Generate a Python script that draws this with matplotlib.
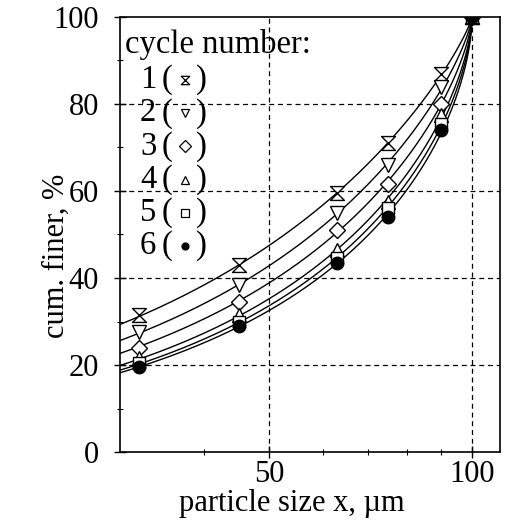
import numpy as np
import matplotlib
matplotlib.use("Agg")
import matplotlib.pyplot as plt
from matplotlib.path import Path
from matplotlib.ticker import FixedLocator, FixedFormatter, NullFormatter

# ---- data ----
particle_size = [32, 45, 63, 75, 90, 100]
cycle_1 = [31.5, 43.0, 59.5, 71.0, 87.0, 100.0]
cycle_2 = [27.5, 38.5, 55.0, 66.0, 84.0, 100.0]
cycle_3 = [24.0, 34.5, 51.0, 61.5, 80.0, 100.0]
cycle_4 = [21.5, 31.5, 46.5, 57.5, 77.5, 100.0]
cycle_5 = [20.5, 30.0, 44.5, 56.0, 75.5, 100.0]
cycle_6 = [19.5, 29.0, 43.5, 54.0, 74.0, 100.0]
cycle_labels = ["1", "2", "3", "4", "5", "6"]
x_ticks = [50, 100]
x_minor = [40, 60, 70, 80, 90]
y_ticks = [0, 20, 40, 60, 80, 100]
y_minor = [10, 30, 50, 70, 90]
x_max_size = 100.0

series = [cycle_1, cycle_2, cycle_3, cycle_4, cycle_5, cycle_6]

hourglass = Path([(-1, 1), (1, 1), (-1, -1), (1, -1), (-1, 1)],
                 [Path.MOVETO, Path.LINETO, Path.LINETO, Path.LINETO, Path.CLOSEPOLY])
markers = [hourglass, "v", "D", "^", "s", "o"]
msizes = [10, 10, 8, 10, 8, 9]
faces = ["white", "white", "white", "white", "white", "black"]

plt.rcParams["font.family"] = ["Liberation Serif", "DejaVu Serif"]

fig = plt.figure(figsize=(5.07, 5.25), dpi=100)
ax = fig.add_axes([120 / 507, 1 - 452 / 525, 380 / 507, 435 / 525])
ax.set_xscale("log")
ax.set_xlim(30, 110)
ax.set_ylim(0, 100)


def harris(x, s, r):
    u = np.clip(np.asarray(x, dtype=float) / x_max_size, 0, 1)
    return 100.0 * (1.0 - (1.0 - u ** s) ** r)


xs = np.array(particle_size, dtype=float)
xc = np.geomspace(30, 100, 400)
s_grid = np.linspace(0.3, 3.0, 271)
r_grid = np.linspace(0.2, 3.0, 281)
S, R = np.meshgrid(s_grid, r_grid)
for vals, mk, ms, fc in zip(series, markers, msizes, faces):
    v = np.array(vals)
    mask = xs < x_max_size
    err = np.zeros_like(S)
    for xi, vi in zip(xs[mask], v[mask]):
        err += (harris(xi, S, R) - vi) ** 2
    k = np.unravel_index(np.argmin(err), err.shape)
    ax.plot(xc, harris(xc, S[k], R[k]), color="black", lw=1.0, zorder=2)
    ax.plot(xs, v, linestyle="none", marker=mk, ms=ms, mfc=fc, mec="black",
            mew=1.0, zorder=3)

# grid
for gx in x_ticks:
    ax.axvline(gx, color="black", lw=0.9, ls=(0, (4, 3)), zorder=1)
for gy in y_ticks[1:-1]:
    ax.axhline(gy, color="black", lw=0.9, ls=(0, (4, 3)), zorder=1)

ax.xaxis.set_major_locator(FixedLocator(x_ticks))
ax.xaxis.set_major_formatter(FixedFormatter([str(t) for t in x_ticks]))
ax.xaxis.set_minor_locator(FixedLocator(x_minor))
ax.xaxis.set_minor_formatter(NullFormatter())
ax.yaxis.set_major_locator(FixedLocator(y_ticks))
ax.yaxis.set_minor_locator(FixedLocator(y_minor))

ax.tick_params(which="major", direction="inout", length=8, width=1.0,
               labelsize=22, top=False, right=False)
ax.tick_params(which="minor", direction="inout", length=5, width=0.8,
               top=False, right=False)
ax.tick_params(axis="y", which="major", pad=11)
ax.tick_params(axis="x", which="major", pad=2)
for sp in ax.spines.values():
    sp.set_linewidth(1.2)

ax.set_xlabel("particle size x, µm", fontsize=22)
ax.set_ylabel("cum. finer, %", fontsize=22)
ax.xaxis.set_label_coords(0.453, -0.085)
ax.yaxis.set_label_coords(-0.13, 0.45)

# legend drawn as text with markers
fs_leg = 23.5
ax.text(0.012, (452 - 45) / 435, "cycle number:", transform=ax.transAxes,
        fontsize=fs_leg, va="center", ha="left")
for i, (lab, mk, fc) in enumerate(zip(cycle_labels, markers, faces)):
    yy = (452 - (80 + 33.2 * i)) / 435
    ax.text((140 - 120) / 380, yy, lab, transform=ax.transAxes,
            fontsize=fs_leg, va="center", ha="left")
    ax.text((162 - 120) / 380, yy, "(", transform=ax.transAxes,
            fontsize=fs_leg, va="center", ha="left")
    ax.text((196 - 120) / 380, yy, ")", transform=ax.transAxes,
            fontsize=fs_leg, va="center", ha="left")
    ax.plot([(185 - 120) / 380], [yy], transform=ax.transAxes, marker=mk,
            ms=6 if mk != "o" else 5, mfc=fc, mec="black", mew=0.9,
            linestyle="none", clip_on=False)

fig.savefig("out.png", dpi=100)
